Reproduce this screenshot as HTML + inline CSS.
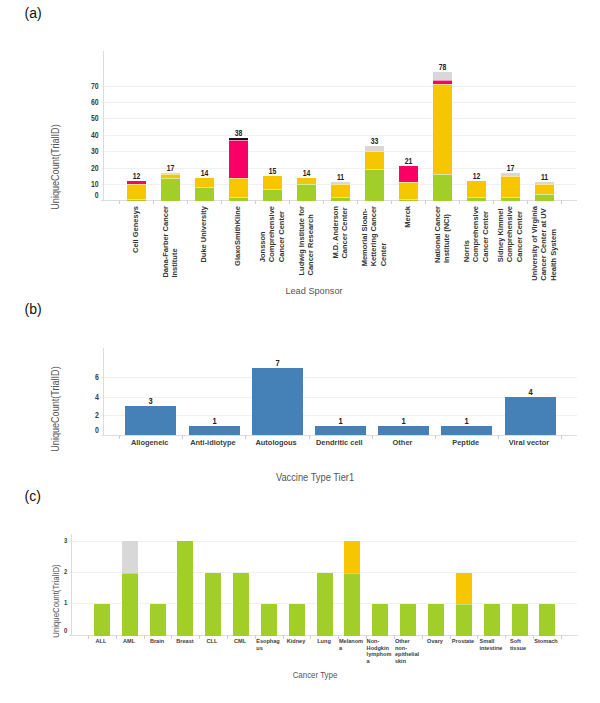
<!DOCTYPE html>
<html><head><meta charset="utf-8"><style>
html,body{margin:0;padding:0;background:#fff;}
body{width:600px;height:703px;position:relative;overflow:hidden;font-family:"Liberation Sans", sans-serif;}
svg{position:absolute;left:0;top:0;font-family:"Liberation Sans", sans-serif;}
.rl{position:absolute;writing-mode:vertical-rl;white-space:pre;font-size:8.1px;font-weight:bold;color:#333;line-height:9.2px;transform:translateX(-50%) translateY(92.5%) rotate(180deg) scaleY(0.925);transform-origin:50% 0;}
.cl{position:absolute;white-space:pre;font-size:6.2px;font-weight:bold;color:#3c3c3c;line-height:6.45px;transform:scaleX(0.9);transform-origin:0 0;}
.cc{transform:translateX(-50%) scaleX(0.9);transform-origin:50% 0;}
.pl{position:absolute;color:#111;white-space:pre;line-height:1;}
.yt{position:absolute;white-space:pre;color:#555555;transform:translate(-50%,-50%) rotate(-90deg) scaleX(0.907);line-height:1;}
.xt{position:absolute;white-space:pre;color:#555555;transform:translateX(-50%) scaleX(0.93);line-height:1;}
</style></head><body>
<svg width="600" height="703" viewBox="0 0 600 703" shape-rendering="crispEdges">
<rect x="101.00" y="86" width="475.00" height="1" fill="#f0f0f0"/>
<rect x="101.00" y="102" width="475.00" height="1" fill="#f0f0f0"/>
<rect x="101.00" y="118" width="475.00" height="1" fill="#f0f0f0"/>
<rect x="101.00" y="135" width="475.00" height="1" fill="#f0f0f0"/>
<rect x="101.00" y="151" width="475.00" height="1" fill="#f0f0f0"/>
<rect x="101.00" y="168" width="475.00" height="1" fill="#f0f0f0"/>
<rect x="101.00" y="184" width="475.00" height="1" fill="#f0f0f0"/>
<rect x="103" y="51" width="1" height="149" fill="#dcdcdc"/>
<rect x="101.00" y="200" width="475.50" height="1" fill="#dddddd"/>
<rect x="119" y="200" width="1" height="4" fill="#cfcfcf"/>
<rect x="153" y="200" width="1" height="4" fill="#cfcfcf"/>
<rect x="187" y="200" width="1" height="4" fill="#cfcfcf"/>
<rect x="221" y="200" width="1" height="4" fill="#cfcfcf"/>
<rect x="255" y="200" width="1" height="4" fill="#cfcfcf"/>
<rect x="289" y="200" width="1" height="4" fill="#cfcfcf"/>
<rect x="323" y="200" width="1" height="4" fill="#cfcfcf"/>
<rect x="357" y="200" width="1" height="4" fill="#cfcfcf"/>
<rect x="391" y="200" width="1" height="4" fill="#cfcfcf"/>
<rect x="425" y="200" width="1" height="4" fill="#cfcfcf"/>
<rect x="459" y="200" width="1" height="4" fill="#cfcfcf"/>
<rect x="493" y="200" width="1" height="4" fill="#cfcfcf"/>
<rect x="527" y="200" width="1" height="4" fill="#cfcfcf"/>
<rect x="561" y="200" width="1" height="4" fill="#cfcfcf"/>
<text transform="translate(98.60,88.60) scale(0.78,1)" font-size="8.8" font-weight="bold" fill="#3c3c3c" text-anchor="end" >70</text>
<text transform="translate(98.60,104.60) scale(0.78,1)" font-size="8.8" font-weight="bold" fill="#3c3c3c" text-anchor="end" >60</text>
<text transform="translate(98.60,120.60) scale(0.78,1)" font-size="8.8" font-weight="bold" fill="#3c3c3c" text-anchor="end" >50</text>
<text transform="translate(98.60,137.60) scale(0.78,1)" font-size="8.8" font-weight="bold" fill="#3c3c3c" text-anchor="end" >40</text>
<text transform="translate(98.60,153.60) scale(0.78,1)" font-size="8.8" font-weight="bold" fill="#3c3c3c" text-anchor="end" >30</text>
<text transform="translate(98.60,170.60) scale(0.78,1)" font-size="8.8" font-weight="bold" fill="#3c3c3c" text-anchor="end" >20</text>
<text transform="translate(98.60,186.60) scale(0.78,1)" font-size="8.8" font-weight="bold" fill="#3c3c3c" text-anchor="end" >10</text>
<text transform="translate(98.60,197.90) scale(0.78,1)" font-size="8.8" font-weight="bold" fill="#3c3c3c" text-anchor="end" >0</text>
<rect x="127.00" y="199.00" width="19.00" height="2.00" fill="#a2ce2a"/>
<rect x="127.00" y="199.00" width="19.00" height="1.00" fill="#d5e99f"/>
<rect x="127.00" y="184.00" width="19.00" height="15.00" fill="#f6c700"/>
<rect x="127.00" y="184.00" width="19.00" height="1.00" fill="#fbe68c"/>
<rect x="127.00" y="181.00" width="19.00" height="3.00" fill="#f80066"/>
<text transform="translate(136.50,178.70) scale(0.78,1)" font-size="8.8" font-weight="bold" fill="#222" text-anchor="middle" >12</text>
<rect x="161.00" y="178.00" width="19.00" height="23.00" fill="#a2ce2a"/>
<rect x="161.00" y="178.00" width="19.00" height="1.00" fill="#d5e99f"/>
<rect x="161.00" y="174.00" width="19.00" height="4.00" fill="#f6c700"/>
<rect x="161.00" y="174.00" width="19.00" height="1.00" fill="#fbe68c"/>
<rect x="161.00" y="173.00" width="19.00" height="1.00" fill="#d8d8d8"/>
<text transform="translate(170.50,170.70) scale(0.78,1)" font-size="8.8" font-weight="bold" fill="#222" text-anchor="middle" >17</text>
<rect x="195.00" y="187.00" width="19.00" height="14.00" fill="#a2ce2a"/>
<rect x="195.00" y="187.00" width="19.00" height="1.00" fill="#d5e99f"/>
<rect x="195.00" y="178.00" width="19.00" height="9.00" fill="#f6c700"/>
<text transform="translate(204.50,175.70) scale(0.78,1)" font-size="8.8" font-weight="bold" fill="#222" text-anchor="middle" >14</text>
<rect x="229.00" y="197.00" width="19.00" height="4.00" fill="#a2ce2a"/>
<rect x="229.00" y="197.00" width="19.00" height="1.00" fill="#d5e99f"/>
<rect x="229.00" y="178.00" width="19.00" height="19.00" fill="#f6c700"/>
<rect x="229.00" y="178.00" width="19.00" height="1.00" fill="#fbe68c"/>
<rect x="229.00" y="140.00" width="19.00" height="38.00" fill="#f80066"/>
<rect x="229.00" y="140.00" width="19.00" height="1.00" fill="#fc8cba"/>
<rect x="229.00" y="138.00" width="19.00" height="2.00" fill="#141414"/>
<text transform="translate(238.50,135.70) scale(0.78,1)" font-size="8.8" font-weight="bold" fill="#222" text-anchor="middle" >38</text>
<rect x="263.00" y="189.00" width="19.00" height="12.00" fill="#a2ce2a"/>
<rect x="263.00" y="189.00" width="19.00" height="1.00" fill="#d5e99f"/>
<rect x="263.00" y="176.00" width="19.00" height="13.00" fill="#f6c700"/>
<text transform="translate(272.50,173.70) scale(0.78,1)" font-size="8.8" font-weight="bold" fill="#222" text-anchor="middle" >15</text>
<rect x="297.00" y="184.00" width="19.00" height="17.00" fill="#a2ce2a"/>
<rect x="297.00" y="184.00" width="19.00" height="1.00" fill="#d5e99f"/>
<rect x="297.00" y="178.00" width="19.00" height="6.00" fill="#f6c700"/>
<text transform="translate(306.50,175.70) scale(0.78,1)" font-size="8.8" font-weight="bold" fill="#222" text-anchor="middle" >14</text>
<rect x="331.00" y="197.00" width="19.00" height="4.00" fill="#a2ce2a"/>
<rect x="331.00" y="197.00" width="19.00" height="1.00" fill="#d5e99f"/>
<rect x="331.00" y="184.00" width="19.00" height="13.00" fill="#f6c700"/>
<rect x="331.00" y="184.00" width="19.00" height="1.00" fill="#fbe68c"/>
<rect x="331.00" y="182.00" width="19.00" height="2.00" fill="#d8d8d8"/>
<text transform="translate(340.50,179.70) scale(0.78,1)" font-size="8.8" font-weight="bold" fill="#222" text-anchor="middle" >11</text>
<rect x="365.00" y="169.00" width="19.00" height="32.00" fill="#a2ce2a"/>
<rect x="365.00" y="169.00" width="19.00" height="1.00" fill="#d5e99f"/>
<rect x="365.00" y="151.00" width="19.00" height="18.00" fill="#f6c700"/>
<rect x="365.00" y="151.00" width="19.00" height="1.00" fill="#fbe68c"/>
<rect x="365.00" y="146.00" width="19.00" height="5.00" fill="#d8d8d8"/>
<text transform="translate(374.50,143.70) scale(0.78,1)" font-size="8.8" font-weight="bold" fill="#222" text-anchor="middle" >33</text>
<rect x="399.00" y="199.00" width="19.00" height="2.00" fill="#a2ce2a"/>
<rect x="399.00" y="199.00" width="19.00" height="1.00" fill="#d5e99f"/>
<rect x="399.00" y="182.00" width="19.00" height="17.00" fill="#f6c700"/>
<rect x="399.00" y="182.00" width="19.00" height="1.00" fill="#fbe68c"/>
<rect x="399.00" y="166.00" width="19.00" height="16.00" fill="#f80066"/>
<text transform="translate(408.50,163.70) scale(0.78,1)" font-size="8.8" font-weight="bold" fill="#222" text-anchor="middle" >21</text>
<rect x="433.00" y="174.00" width="19.00" height="27.00" fill="#a2ce2a"/>
<rect x="433.00" y="174.00" width="19.00" height="1.00" fill="#d5e99f"/>
<rect x="433.00" y="84.00" width="19.00" height="90.00" fill="#f6c700"/>
<rect x="433.00" y="84.00" width="19.00" height="1.00" fill="#fbe68c"/>
<rect x="433.00" y="80.00" width="19.00" height="4.00" fill="#f80066"/>
<rect x="433.00" y="80.00" width="19.00" height="1.00" fill="#fc8cba"/>
<rect x="433.00" y="72.00" width="19.00" height="8.00" fill="#d8d8d8"/>
<text transform="translate(442.50,69.70) scale(0.78,1)" font-size="8.8" font-weight="bold" fill="#222" text-anchor="middle" >78</text>
<rect x="467.00" y="197.00" width="19.00" height="4.00" fill="#a2ce2a"/>
<rect x="467.00" y="197.00" width="19.00" height="1.00" fill="#d5e99f"/>
<rect x="467.00" y="181.00" width="19.00" height="16.00" fill="#f6c700"/>
<text transform="translate(476.50,178.70) scale(0.78,1)" font-size="8.8" font-weight="bold" fill="#222" text-anchor="middle" >12</text>
<rect x="501.00" y="197.00" width="19.00" height="4.00" fill="#a2ce2a"/>
<rect x="501.00" y="197.00" width="19.00" height="1.00" fill="#d5e99f"/>
<rect x="501.00" y="176.00" width="19.00" height="21.00" fill="#f6c700"/>
<rect x="501.00" y="176.00" width="19.00" height="1.00" fill="#fbe68c"/>
<rect x="501.00" y="173.00" width="19.00" height="3.00" fill="#d8d8d8"/>
<text transform="translate(510.50,170.70) scale(0.78,1)" font-size="8.8" font-weight="bold" fill="#222" text-anchor="middle" >17</text>
<rect x="535.00" y="194.00" width="19.00" height="7.00" fill="#a2ce2a"/>
<rect x="535.00" y="194.00" width="19.00" height="1.00" fill="#d5e99f"/>
<rect x="535.00" y="184.00" width="19.00" height="10.00" fill="#f6c700"/>
<rect x="535.00" y="184.00" width="19.00" height="1.00" fill="#fbe68c"/>
<rect x="535.00" y="182.00" width="19.00" height="2.00" fill="#d8d8d8"/>
<text transform="translate(544.50,179.70) scale(0.78,1)" font-size="8.8" font-weight="bold" fill="#222" text-anchor="middle" >11</text>
<rect x="101.00" y="377" width="475.50" height="1" fill="#f0f0f0"/>
<rect x="101.00" y="397" width="475.50" height="1" fill="#f0f0f0"/>
<rect x="101.00" y="415" width="475.50" height="1" fill="#f0f0f0"/>
<rect x="103" y="348" width="1" height="87" fill="#dcdcdc"/>
<rect x="101.00" y="435" width="476.00" height="1" fill="#dddddd"/>
<rect x="119" y="435" width="1" height="4" fill="#cfcfcf"/>
<rect x="182" y="435" width="1" height="4" fill="#cfcfcf"/>
<rect x="245" y="435" width="1" height="4" fill="#cfcfcf"/>
<rect x="309" y="435" width="1" height="4" fill="#cfcfcf"/>
<rect x="372" y="435" width="1" height="4" fill="#cfcfcf"/>
<rect x="435" y="435" width="1" height="4" fill="#cfcfcf"/>
<rect x="498" y="435" width="1" height="4" fill="#cfcfcf"/>
<rect x="561" y="435" width="1" height="4" fill="#cfcfcf"/>
<text transform="translate(98.80,380.40) scale(0.8,1)" font-size="8.8" font-weight="bold" fill="#3c3c3c" text-anchor="end" >6</text>
<text transform="translate(98.80,400.40) scale(0.8,1)" font-size="8.8" font-weight="bold" fill="#3c3c3c" text-anchor="end" >4</text>
<text transform="translate(98.80,418.40) scale(0.8,1)" font-size="8.8" font-weight="bold" fill="#3c3c3c" text-anchor="end" >2</text>
<text transform="translate(98.80,432.90) scale(0.8,1)" font-size="8.8" font-weight="bold" fill="#3c3c3c" text-anchor="end" >0</text>
<rect x="125.00" y="406.00" width="51.00" height="29.00" fill="#4581b6"/>
<text transform="translate(150.50,403.50) scale(0.85,1)" font-size="8.8" font-weight="bold" fill="#222" text-anchor="middle" >3</text>
<text transform="translate(149.70,444.50) scale(0.93,1)" font-size="8" font-weight="bold" fill="#3c3c3c" text-anchor="middle" >Allogeneic</text>
<rect x="189.00" y="426.00" width="51.00" height="9.00" fill="#4581b6"/>
<text transform="translate(214.50,423.50) scale(0.85,1)" font-size="8.8" font-weight="bold" fill="#222" text-anchor="middle" >1</text>
<text transform="translate(212.90,444.50) scale(0.93,1)" font-size="8" font-weight="bold" fill="#3c3c3c" text-anchor="middle" >Anti-idiotype</text>
<rect x="252.00" y="368.00" width="51.00" height="67.00" fill="#4581b6"/>
<text transform="translate(277.50,365.50) scale(0.85,1)" font-size="8.8" font-weight="bold" fill="#222" text-anchor="middle" >7</text>
<text transform="translate(276.10,444.50) scale(0.93,1)" font-size="8" font-weight="bold" fill="#3c3c3c" text-anchor="middle" >Autologous</text>
<rect x="315.00" y="426.00" width="51.00" height="9.00" fill="#4581b6"/>
<text transform="translate(340.50,423.50) scale(0.85,1)" font-size="8.8" font-weight="bold" fill="#222" text-anchor="middle" >1</text>
<text transform="translate(339.30,444.50) scale(0.93,1)" font-size="8" font-weight="bold" fill="#3c3c3c" text-anchor="middle" >Dendritic cell</text>
<rect x="378.00" y="426.00" width="51.00" height="9.00" fill="#4581b6"/>
<text transform="translate(403.50,423.50) scale(0.85,1)" font-size="8.8" font-weight="bold" fill="#222" text-anchor="middle" >1</text>
<text transform="translate(402.50,444.50) scale(0.93,1)" font-size="8" font-weight="bold" fill="#3c3c3c" text-anchor="middle" >Other</text>
<rect x="441.00" y="426.00" width="51.00" height="9.00" fill="#4581b6"/>
<text transform="translate(466.50,423.50) scale(0.85,1)" font-size="8.8" font-weight="bold" fill="#222" text-anchor="middle" >1</text>
<text transform="translate(465.70,444.50) scale(0.93,1)" font-size="8" font-weight="bold" fill="#3c3c3c" text-anchor="middle" >Peptide</text>
<rect x="505.00" y="397.00" width="51.00" height="38.00" fill="#4581b6"/>
<text transform="translate(530.50,394.50) scale(0.85,1)" font-size="8.8" font-weight="bold" fill="#222" text-anchor="middle" >4</text>
<text transform="translate(528.90,444.50) scale(0.93,1)" font-size="8" font-weight="bold" fill="#3c3c3c" text-anchor="middle" >Viral vector</text>
<rect x="69.00" y="541" width="508.30" height="1" fill="#f0f0f0"/>
<rect x="69.00" y="572" width="508.30" height="1" fill="#f0f0f0"/>
<rect x="69.00" y="603" width="508.30" height="1" fill="#f0f0f0"/>
<rect x="71" y="534" width="1" height="101" fill="#dcdcdc"/>
<rect x="69.00" y="635" width="509.30" height="1" fill="#dddddd"/>
<rect x="88" y="635" width="1" height="4" fill="#cfcfcf"/>
<rect x="116" y="635" width="1" height="4" fill="#cfcfcf"/>
<rect x="144" y="635" width="1" height="4" fill="#cfcfcf"/>
<rect x="171" y="635" width="1" height="4" fill="#cfcfcf"/>
<rect x="199" y="635" width="1" height="4" fill="#cfcfcf"/>
<rect x="227" y="635" width="1" height="4" fill="#cfcfcf"/>
<rect x="255" y="635" width="1" height="4" fill="#cfcfcf"/>
<rect x="283" y="635" width="1" height="4" fill="#cfcfcf"/>
<rect x="310" y="635" width="1" height="4" fill="#cfcfcf"/>
<rect x="338" y="635" width="1" height="4" fill="#cfcfcf"/>
<rect x="366" y="635" width="1" height="4" fill="#cfcfcf"/>
<rect x="394" y="635" width="1" height="4" fill="#cfcfcf"/>
<rect x="422" y="635" width="1" height="4" fill="#cfcfcf"/>
<rect x="450" y="635" width="1" height="4" fill="#cfcfcf"/>
<rect x="477" y="635" width="1" height="4" fill="#cfcfcf"/>
<rect x="505" y="635" width="1" height="4" fill="#cfcfcf"/>
<rect x="533" y="635" width="1" height="4" fill="#cfcfcf"/>
<rect x="561" y="635" width="1" height="4" fill="#cfcfcf"/>
<text transform="translate(67.30,543.40) scale(0.85,1)" font-size="7" font-weight="bold" fill="#3c3c3c" text-anchor="end" >3</text>
<text transform="translate(67.30,574.40) scale(0.85,1)" font-size="7" font-weight="bold" fill="#3c3c3c" text-anchor="end" >2</text>
<text transform="translate(67.30,605.40) scale(0.85,1)" font-size="7" font-weight="bold" fill="#3c3c3c" text-anchor="end" >1</text>
<text transform="translate(67.30,632.50) scale(0.85,1)" font-size="7" font-weight="bold" fill="#3c3c3c" text-anchor="end" >0</text>
<rect x="94.00" y="604.00" width="16.00" height="32.00" fill="#a2ce2a"/>
<rect x="122.00" y="573.00" width="16.00" height="63.00" fill="#a2ce2a"/>
<rect x="122.00" y="573.00" width="16.00" height="1.00" fill="#c3df75"/>
<rect x="122.00" y="541.00" width="16.00" height="32.00" fill="#d8d8d8"/>
<rect x="150.00" y="604.00" width="16.00" height="32.00" fill="#a2ce2a"/>
<rect x="177.00" y="541.00" width="16.00" height="95.00" fill="#a2ce2a"/>
<rect x="205.00" y="573.00" width="16.00" height="63.00" fill="#a2ce2a"/>
<rect x="233.00" y="573.00" width="16.00" height="63.00" fill="#a2ce2a"/>
<rect x="261.00" y="604.00" width="16.00" height="32.00" fill="#a2ce2a"/>
<rect x="289.00" y="604.00" width="16.00" height="32.00" fill="#a2ce2a"/>
<rect x="317.00" y="573.00" width="16.00" height="63.00" fill="#a2ce2a"/>
<rect x="344.00" y="573.00" width="16.00" height="63.00" fill="#a2ce2a"/>
<rect x="344.00" y="573.00" width="16.00" height="1.00" fill="#c3df75"/>
<rect x="344.00" y="541.00" width="16.00" height="32.00" fill="#f6c700"/>
<rect x="372.00" y="604.00" width="16.00" height="32.00" fill="#a2ce2a"/>
<rect x="400.00" y="604.00" width="16.00" height="32.00" fill="#a2ce2a"/>
<rect x="428.00" y="604.00" width="16.00" height="32.00" fill="#a2ce2a"/>
<rect x="456.00" y="604.00" width="16.00" height="32.00" fill="#a2ce2a"/>
<rect x="456.00" y="604.00" width="16.00" height="1.00" fill="#c3df75"/>
<rect x="456.00" y="573.00" width="16.00" height="31.00" fill="#f6c700"/>
<rect x="484.00" y="604.00" width="16.00" height="32.00" fill="#a2ce2a"/>
<rect x="512.00" y="604.00" width="16.00" height="32.00" fill="#a2ce2a"/>
<rect x="539.00" y="604.00" width="16.00" height="32.00" fill="#a2ce2a"/>
</svg>
<div class="pl" style="left:24.6px;top:6px;font-size:14px">(a)</div>
<div class="pl" style="left:24.6px;top:301.5px;font-size:14px">(b)</div>
<div class="pl" style="left:24.6px;top:488.5px;font-size:14px">(c)</div>
<div class="yt" style="left:55.8px;top:166.8px;font-size:10px">UniqueCount(TrialID)</div>
<div class="yt" style="left:55.9px;top:408.6px;font-size:10px">UniqueCount(TrialID)</div>
<div class="yt" style="left:55.8px;top:601px;font-size:8.6px">UniqueCount(TrialID)</div>
<div class="xt" style="left:314.3px;top:286px;font-size:9.9px">Lead Sponsor</div>
<div class="xt" style="left:315px;top:472.8px;font-size:10px">Vaccine Type Tier1</div>
<div class="xt" style="left:314.6px;top:670.8px;font-size:8.5px">Cancer Type</div>
<div class="rl" style="left:136.40px;top:206px">Cell Genesys</div>
<div class="rl" style="left:170.40px;top:206px">Dana-Farber Cancer
Institute</div>
<div class="rl" style="left:204.40px;top:206px">Duke University</div>
<div class="rl" style="left:238.40px;top:206px">GlaxoSmithKline</div>
<div class="rl" style="left:272.40px;top:206px">Jonsson
Comprehensive
Cancer Center</div>
<div class="rl" style="left:306.40px;top:206px">Ludwig Institute for
Cancer Research</div>
<div class="rl" style="left:340.40px;top:206px">M.D. Anderson
Cancer Center</div>
<div class="rl" style="left:374.40px;top:206px">Memorial Sloan-
Kettering Cancer
Center</div>
<div class="rl" style="left:408.40px;top:206px">Merck</div>
<div class="rl" style="left:442.40px;top:206px">National Cancer
Institute (NCI)</div>
<div class="rl" style="left:476.40px;top:206px">Norris
Comprehensive
Cancer Center</div>
<div class="rl" style="left:510.40px;top:206px">Sidney Kimmel
Comprehensive
Cancer Center</div>
<div class="rl" style="left:544.40px;top:206px">University of Virginia
Cancer Center at UV
Health System</div>
<div class="cl cc" style="left:101.11px;top:638.2px">ALL</div>
<div class="cl cc" style="left:128.93px;top:638.2px">AML</div>
<div class="cl cc" style="left:156.75px;top:638.2px">Brain</div>
<div class="cl cc" style="left:184.57px;top:638.2px">Breast</div>
<div class="cl cc" style="left:212.39px;top:638.2px">CLL</div>
<div class="cl cc" style="left:240.21px;top:638.2px">CML</div>
<div class="cl cc" style="left:268.03px;top:638.2px">Esophag
us</div>
<div class="cl cc" style="left:295.85px;top:638.2px">Kidney</div>
<div class="cl cc" style="left:323.67px;top:638.2px">Lung</div>
<div class="cl cc" style="left:351.49px;top:638.2px">Melanom
a</div>
<div class="cl cc" style="left:379.31px;top:638.2px">Non-
Hodgkin
lymphom
a</div>
<div class="cl cc" style="left:407.13px;top:638.2px">Other
non-
epithelial
skin</div>
<div class="cl cc" style="left:434.95px;top:638.2px">Ovary</div>
<div class="cl cc" style="left:462.77px;top:638.2px">Prostate</div>
<div class="cl cc" style="left:490.59px;top:638.2px">Small
intestine</div>
<div class="cl cc" style="left:518.41px;top:638.2px">Soft
tissue</div>
<div class="cl cc" style="left:546.23px;top:638.2px">Stomach</div>
</body></html>
